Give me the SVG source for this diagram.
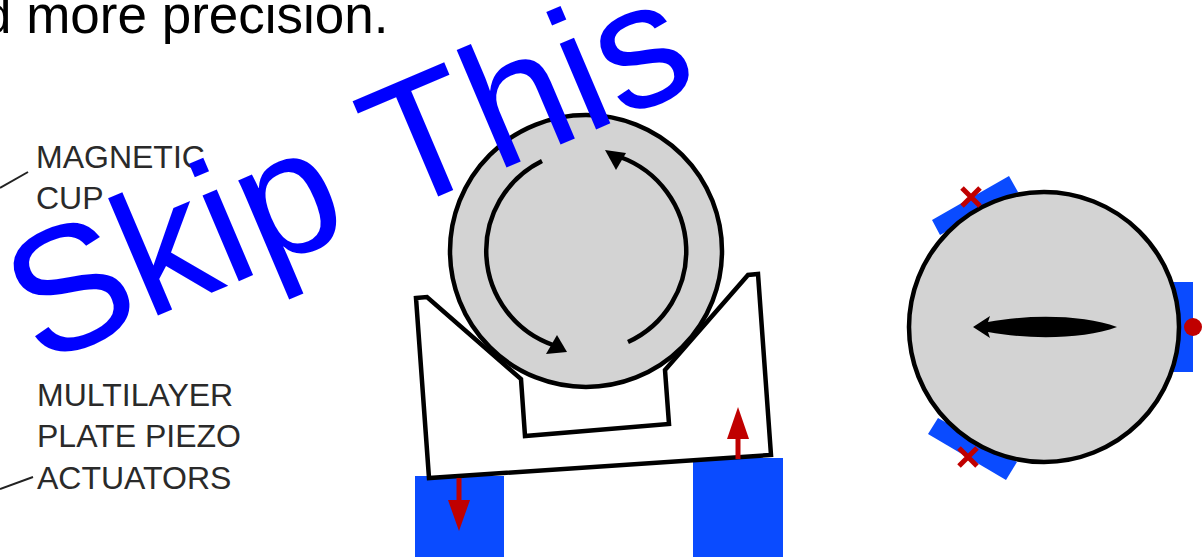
<svg xmlns="http://www.w3.org/2000/svg" width="1204" height="559" viewBox="0 0 1204 559">
<style>
.ln{fill:none;stroke:#000;stroke-width:4.5;stroke-linejoin:miter}
.disc{fill:#d3d3d3;stroke:#000;stroke-width:4.5}
.pad{fill:#0a4bff}
.red{fill:#c00000}
.redl{fill:none;stroke:#c00000;stroke-width:5}
.lbl{font-family:"Liberation Sans",Arial,sans-serif;font-size:32px;fill:#2a2a2a}
.lead{stroke:#222;stroke-width:2;fill:none}
</style>
<rect width="1204" height="559" fill="#fff"/>
<text x="-18" y="33" font-family="'Liberation Sans',Arial,sans-serif" font-size="53" fill="#000">d more precision.</text>
<g id="label-cup"><path class="lead" d="M28 172L0 188"/><text class="lbl" x="36" y="168">MAGNETIC</text><text class="lbl" x="36" y="209">CUP</text></g>
<g id="label-piezo"><path class="lead" d="M33 477L0 489"/><text class="lbl" x="37" y="406">MULTILAYER</text><text class="lbl" x="37" y="447">PLATE PIEZO</text><text class="lbl" x="37" y="489">ACTUATORS</text></g>
<g id="pad-left"><rect class="pad" x="415" y="476" width="89" height="81"/></g>
<g id="pad-right"><rect class="pad" x="693" y="458" width="90" height="99"/></g>
<g id="frame"><path class="ln" style="fill:#fff" d="M416 298L427 297L521 379L525 436L669 424L665 370L748 275L758 274L771 455L429 478Z"/></g>
<g id="cup-side"><circle class="disc" cx="586" cy="251" r="136"/></g>
<g id="connectors">
<path class="ln" d="M542 161A100 100 0 0 0 553 345"/>
<path d="M567 352L546 354L557 335Z"/>
<path class="ln" d="M628 342A100 100 0 0 0 620 157"/>
<path d="M605 150L616 170L626 153Z"/>
<path class="redl" d="M459 478V502"/>
<path class="red" d="M448 500H470L459 531Z"/>
<path class="redl" d="M738 459V437"/>
<path class="red" d="M727 439H749L738 407Z"/>
</g>
<g id="pad-top"><path class="pad" d="M932 220L1009 176L1018 192L940 235Z"/></g>
<g id="pad-bottom"><path class="pad" d="M928 434L938 418L1017 462L1006 480Z"/></g>
<g id="pad-east"><rect class="pad" x="1170" y="282" width="23" height="90"/></g>
<g id="cup-front"><circle class="disc" cx="1044" cy="327" r="135"/></g>
<g id="marks">
<path d="M973 327L990 316L988 322C1030 314 1085 315 1117 327C1085 339 1030 340 988 332L990 338Z"/>
<circle class="red" cx="1193" cy="327" r="9"/>
<path class="redl" d="M962 188L980 206M980 188L962 206"/>
<path class="redl" d="M959 448L977 466M977 448L959 466"/>
</g>
<text transform="translate(39 366) rotate(-23)" font-family="'Liberation Sans',Arial,sans-serif" font-size="176" fill="#0000ff">Skip This</text>
</svg>
